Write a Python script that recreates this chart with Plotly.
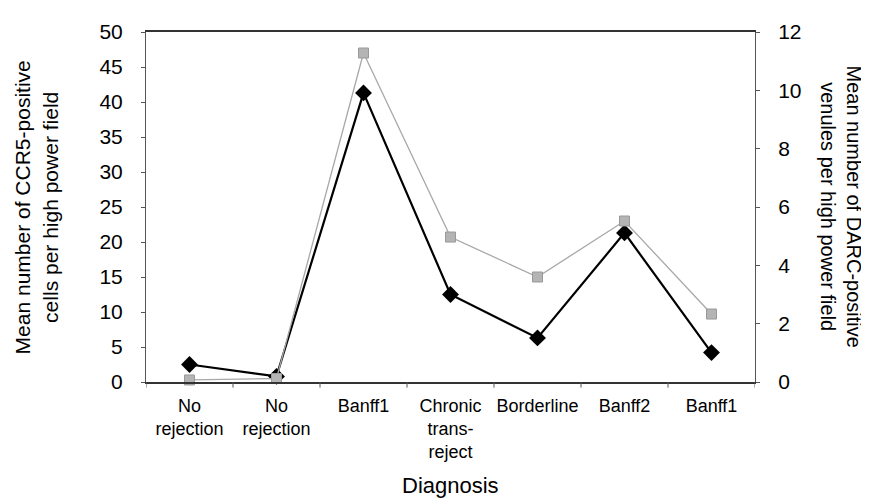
import plotly.graph_objects as go

categories = ["No<br>rejection", "No<br>rejection", "Banff1", "Chronic<br>trans-<br>reject",
              "Borderline", "Banff2", "Banff1"]
ccr5_cells = [2.5, 0.8, 41.3, 12.5, 6.3, 21.3, 4.2]
darc_venules = [0.07, 0.12, 11.28, 4.97, 3.6, 5.52, 2.33]
left_ticks = [0, 5, 10, 15, 20, 25, 30, 35, 40, 45, 50]
right_ticks = [0, 2, 4, 6, 8, 10, 12]

x_idx = list(range(len(categories)))
FONT = "Liberation Sans, Arial, sans-serif"

fig = go.Figure()
fig.add_trace(go.Scatter(
    x=x_idx, y=darc_venules, yaxis="y2", mode="lines+markers",
    line=dict(color="#a8a8a8", width=1.3),
    marker=dict(symbol="square", size=10, color="#b4b4b4", line=dict(color="#999999", width=1)),
    showlegend=False, cliponaxis=False))
fig.add_trace(go.Scatter(
    x=x_idx, y=ccr5_cells, mode="lines+markers",
    line=dict(color="black", width=2.2),
    marker=dict(symbol="diamond", size=13, color="black"),
    showlegend=False, cliponaxis=False))

fig.update_layout(
    width=869, height=502,
    margin=dict(l=138, r=122, t=21, b=128),
    paper_bgcolor="white", plot_bgcolor="white",
    font=dict(family=FONT, color="black"),
    xaxis=dict(range=[-0.5, 6.5], tickvals=x_idx, ticktext=categories,
               showgrid=False, zeroline=False, showline=True, linecolor="#333333",
               linewidth=2, mirror=True, ticks="", tickfont=dict(size=18),
               ticklabelstandoff=6),
    yaxis=dict(range=[0, 50], tickvals=left_ticks, showgrid=False, zeroline=False,
               showline=True, linecolor="#555555", linewidth=1, ticks="outside",
               ticklen=4, tickcolor="#555555", tickfont=dict(size=21),
               ticklabelstandoff=14),
    yaxis2=dict(range=[0, 12], tickvals=right_ticks, overlaying="y", side="right",
                showgrid=False, zeroline=False, showline=True, linecolor="#555555",
                linewidth=1, ticks="outside", ticklen=4, tickcolor="#555555",
                tickfont=dict(size=21), ticklabelstandoff=14),
)

# category boundary ticks on the x axis
for b in [i - 0.5 for i in range(len(categories) + 1)]:
    fig.add_shape(type="line", xref="x", yref="paper", x0=b, x1=b, y0=0, y1=-0.016,
                  line=dict(color="#555555", width=1))

fig.add_annotation(text="Diagnosis", xref="paper", yref="paper", x=0.5, y=-0.295,
                   showarrow=False, font=dict(size=22), xanchor="center", yanchor="middle")
fig.add_annotation(text="Mean number of CCR5-positive<br>cells per high power field",
                   xref="paper", yref="paper", x=-0.18, y=0.5, textangle=-90,
                   showarrow=False, font=dict(size=21), xanchor="center", yanchor="middle")
fig.add_annotation(text="Mean number of DARC-positive<br>venules per high power field",
                   xref="paper", yref="paper", x=1.142, y=0.5, textangle=90,
                   showarrow=False, font=dict(size=20), xanchor="center", yanchor="middle")

fig.write_html("out.html")
